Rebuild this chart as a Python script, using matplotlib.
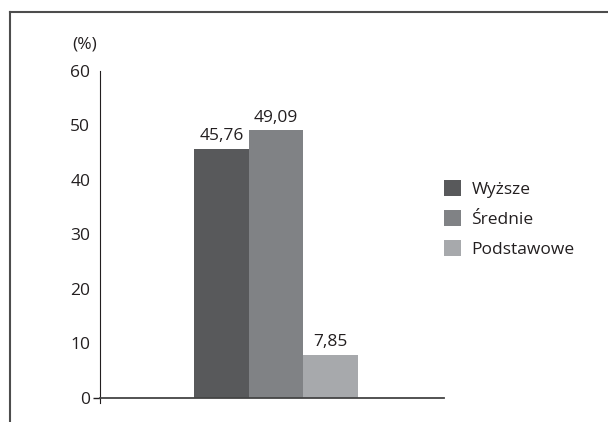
import numpy as np
import matplotlib
matplotlib.use("Agg")
import matplotlib.pyplot as plt
from matplotlib.lines import Line2D
from matplotlib.patches import Patch

plt.rcParams['font.family'] = ['Open Sans', 'DejaVu Sans']

categories = ["Wyższe", "Średnie", "Podstawowe"]
values = [45.76, 49.09, 7.85]
value_labels = ["45,76", "49,09", "7,85"]
colors = ["#58595b", "#808285", "#a7a9ac"]
yticks = [0, 10, 20, 30, 40, 50, 60]

fig = plt.figure(figsize=(6.08, 4.22), dpi=100)
ax = fig.add_axes([100 / 608, (422 - 403) / 422, 344 / 608, (403 - 71) / 422])

x = np.arange(len(values))
ax.bar(x, values, width=1.0, color=colors)
for xi, v, lab in zip(x, values, value_labels):
    ax.text(xi, v + 0.9, lab, ha='center', va='bottom', fontsize=12.5, color='#231f20')

ax.set_xlim(-2.22, 4.07)
ax.set_ylim(-0.92, 60)
ax.spines['top'].set_visible(False)
ax.spines['right'].set_visible(False)
ax.spines['bottom'].set_position(('data', 0))
ax.spines['left'].set_color('#231f20')
ax.spines['bottom'].set_color('#444444')
ax.spines['bottom'].set_linewidth(1.3)
ax.set_xticks([])
ax.set_yticks(yticks)
ax.tick_params(axis='y', which='major', length=0, pad=7, labelsize=12.5, labelcolor='#231f20')
ax.yaxis.remove_overlapping_locs = False
ax.set_yticks([0], minor=True)
ax.tick_params(axis='y', which='minor', length=5, width=1, color='#231f20')
ax.text(-0.01, 1.08, "(%)", transform=ax.transAxes, ha='right', va='center',
        fontsize=12.5, color='#231f20')

handles = [Patch(facecolor=c, edgecolor='none') for c in colors]
fig.legend(handles, categories, loc='center left', bbox_to_anchor=(428 / 608, 1 - 219 / 422),
           frameon=False, fontsize=12.5, handlelength=1.0, handleheight=1.0,
           handletextpad=0.6, labelspacing=0.7, labelcolor='#231f20')

# frame lines (top and left)
fig.add_artist(Line2D([10 / 608, 1], [1 - 12 / 422, 1 - 12 / 422], color='#4d4d4d', lw=1.5))
fig.add_artist(Line2D([10 / 608, 10 / 608], [0, 1 - 12 / 422], color='#4d4d4d', lw=1.5))

fig.savefig("out.png", dpi=100)
